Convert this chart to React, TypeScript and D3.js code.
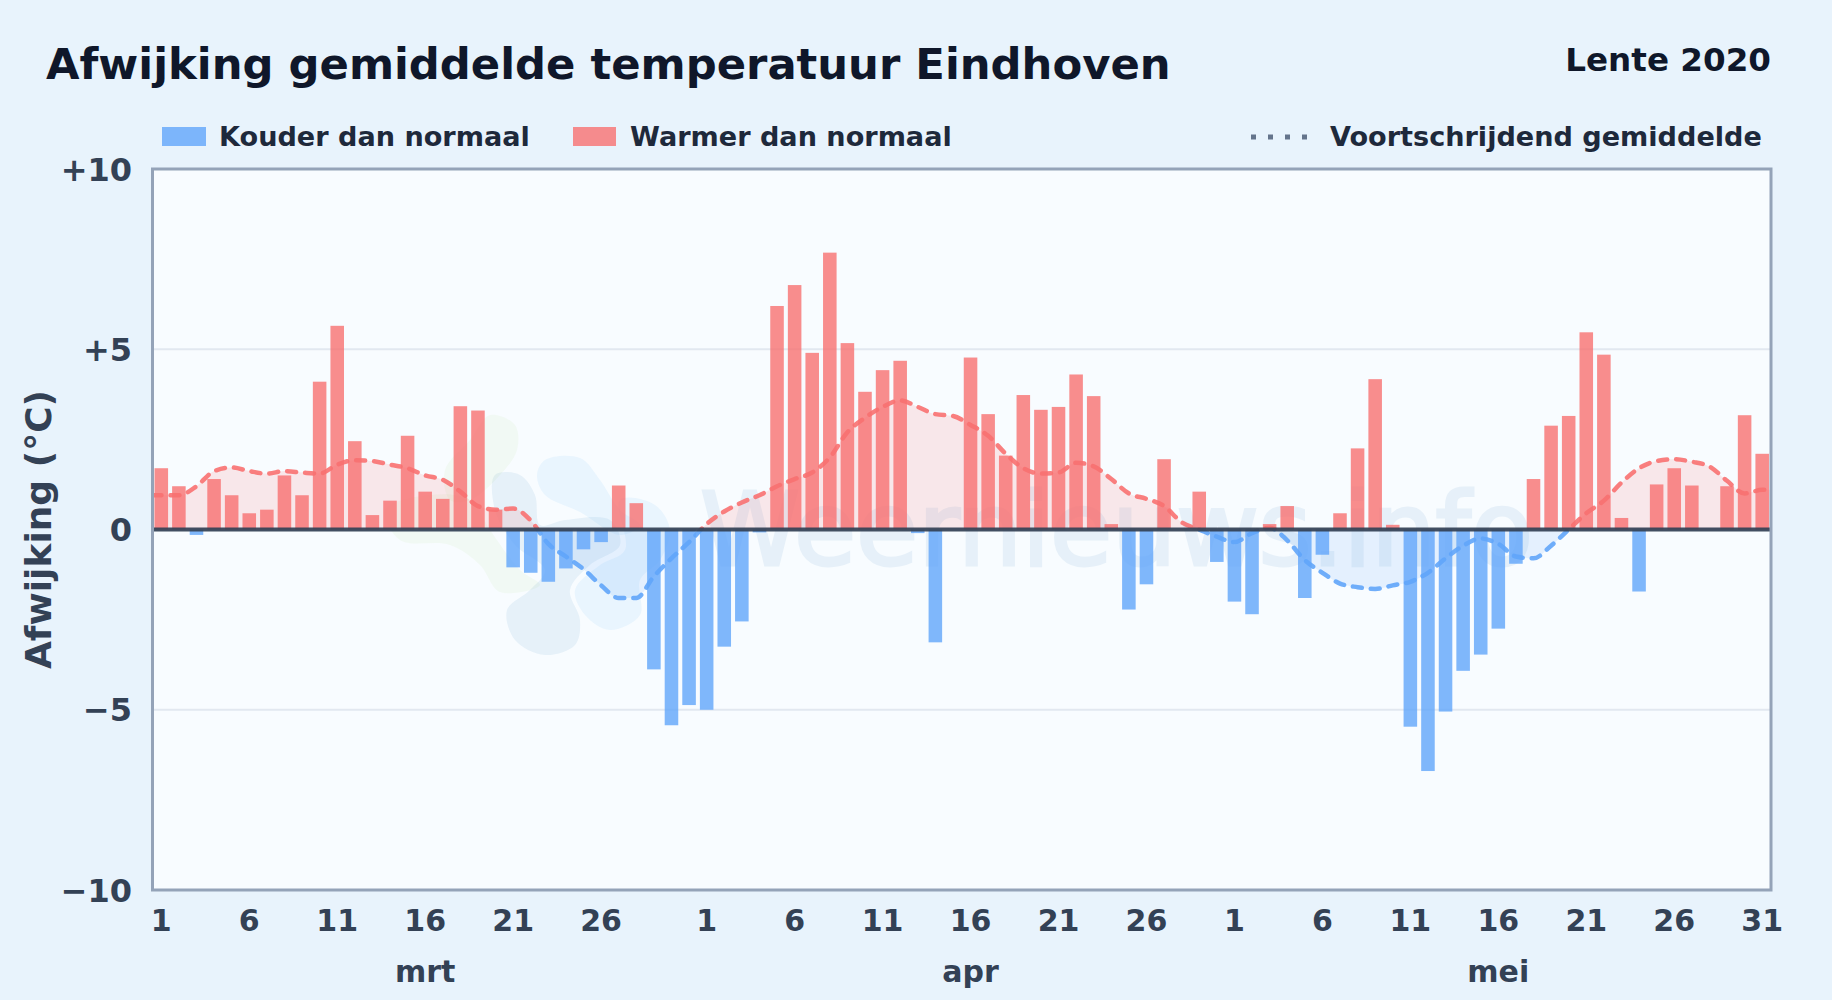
import React from 'react';
import * as d3 from 'd3';

const WIDTH = 1832;
const HEIGHT = 1000;
const margin = { top: 169, right: 61, bottom: 110, left: 152.5 };

const months = ['mrt', 'apr', 'mei'];
const monthLengths = [31, 30, 31];

const tickDaysMrt = [1, 6, 11, 16, 21, 26];
const tickDaysApr = [1, 6, 11, 16, 21, 26];
const tickDaysMei = [1, 6, 11, 16, 21, 26, 31];

const anomalyMrt = [
  1.7, 1.2, -0.15, 1.4, 0.95, 0.45, 0.55, 1.5, 0.95, 4.1, 5.65, 2.45, 0.4, 0.8, 2.6, 1.05,
  0.85, 3.42, 3.3, 0.55, -1.05, -1.2, -1.45, -1.08, -0.55, -0.35, 1.22, 0.73, -3.88, -5.43, -4.87,
];
const anomalyApr = [
  -5.0, -3.25, -2.55, -0.08, 6.2, 6.78, 4.9, 7.68, 5.17, 3.82, 4.42, 4.68, -0.1, -3.13, 0,
  4.77, 3.2, 2.05, 3.73, 3.32, 3.4, 4.3, 3.7, 0.15, -2.22, -1.52, 1.95, 0, 1.05, -0.9,
];
const anomalyMei = [
  -2.0, -2.35, 0.15, 0.65, -1.9, -0.7, 0.45, 2.25, 4.17, 0.13, -5.47, -6.7, -5.05, -3.92, -3.47,
  -2.75, -0.95, 1.4, 2.88, 3.15, 5.47, 4.85, 0.32, -1.72, 1.25, 1.7, 1.22, 0, 1.2, 3.17, 2.1,
];

const smoothMrt = [
  0.95, 0.95, 1.2, 1.62, 1.72, 1.62, 1.55, 1.62, 1.58, 1.55, 1.8, 1.92, 1.9, 1.8, 1.7, 1.5,
  1.38, 1.05, 0.65, 0.55, 0.58, 0.25, -0.4, -0.75, -1.1, -1.55, -1.9, -1.9, -1.3, -0.8, -0.35,
];
const smoothApr = [
  0.15, 0.5, 0.75, 0.95, 1.2, 1.4, 1.58, 2.0, 2.7, 3.1, 3.4, 3.58, 3.4, 3.2, 3.15,
  2.9, 2.6, 2.1, 1.7, 1.55, 1.58, 1.85, 1.75, 1.4, 1.0, 0.85, 0.65, 0.2, 0.0, -0.2,
];
const smoothMei = [
  -0.35, -0.1, 0.05, -0.3, -0.85, -1.2, -1.5, -1.6, -1.65, -1.55, -1.45, -1.2, -0.8, -0.45, -0.25,
  -0.4, -0.75, -0.8, -0.45, 0.0, 0.45, 0.8, 1.3, 1.7, 1.9, 1.95, 1.88, 1.75, 1.35, 1.0, 1.1,
];

const yTicks = [10, 5, 0, -5, -10];
const gridValues = [5, -5];

const anomaly = [...anomalyMrt, ...anomalyApr, ...anomalyMei];
const smooth = [...smoothMrt, ...smoothApr, ...smoothMei];

const font = '"DejaVu Sans", sans-serif';
const RED = '#f87171';
const BLUE = '#60a5fa';

const innerW = WIDTH - margin.left - margin.right;
const innerH = HEIGHT - margin.top - margin.bottom;

const x = d3
  .scaleBand<number>()
  .domain(d3.range(anomaly.length))
  .range([margin.left, margin.left + innerW])
  .paddingInner(0.23)
  .paddingOuter(0.115);
const y = d3.scaleLinear().domain([-10, 10]).range([margin.top + innerH, margin.top]);
const xc = (i: number) => x(0)! + x.bandwidth() / 2 + i * x.step();

// the average runs on to the plot edges, so repeat the end values half a step out
const smoothPts: [number, number][] = [
  [-0.5, smooth[0]],
  ...smooth.map((v, i) => [i, v] as [number, number]),
  [smooth.length - 0.5, smooth[smooth.length - 1]],
];

const linePath = d3.line<[number, number]>().x(d => xc(d[0])).y(d => y(d[1])).curve(d3.curveMonotoneX)(smoothPts)!;
const areaPath = d3.area<[number, number]>().x(d => xc(d[0])).y0(y(0)).y1(d => y(d[1])).curve(d3.curveMonotoneX)(smoothPts)!;

const monthStart = (m: number) => d3.sum(monthLengths.slice(0, m));
const xTicks = [tickDaysMrt, tickDaysApr, tickDaysMei].flatMap((days, m) =>
  days.map(d => ({ label: String(d), i: monthStart(m) + d - 1 })),
);

const yLabel = (v: number) => (v > 0 ? `+${v}` : v < 0 ? `\u2212${-v}` : '0');

// watermark logo blobs
const blobLine = d3.line().curve(d3.curveCatmullRomClosed);
const blobs: { pts: [number, number][]; fill: string }[] = [
  { pts: [[490, 415], [515, 425], [517, 450], [500, 475], [470, 500], [450, 500], [445, 470], [470, 440]], fill: '#a3d977' },
  { pts: [[385, 510], [430, 495], [470, 500], [490, 530], [520, 570], [540, 585], [500, 592], [480, 565], [450, 545], [400, 540]], fill: '#a3d977' },
  { pts: [[495, 475], [520, 475], [535, 495], [540, 525], [565, 520], [610, 520], [620, 545], [590, 565], [570, 590], [580, 620], [575, 645], [545, 655], [515, 640], [507, 610], [530, 590], [545, 570], [515, 545], [495, 510]], fill: '#1e6fb8' },
  { pts: [[545, 460], [580, 458], [600, 480], [620, 510], [640, 525], [620, 535], [580, 512], [545, 495], [537, 475]], fill: '#3fa5f5' },
  { pts: [[620, 500], [655, 505], [670, 530], [660, 560], [640, 580], [640, 615], [610, 630], [585, 615], [575, 590], [600, 565], [625, 550]], fill: '#3fa5f5' },
];

export default function App() {
  return (
    <svg
      width={WIDTH}
      height={HEIGHT}
      viewBox={`0 0 ${WIDTH} ${HEIGHT}`}
      style={{ position: 'absolute', left: 0, top: 0, fontFamily: font, fontWeight: 700 }}
    >
      <defs>
        <clipPath id="above">
          <rect x={margin.left} y={margin.top} width={innerW} height={y(0) - margin.top} />
        </clipPath>
        <clipPath id="below">
          <rect x={margin.left} y={y(0)} width={innerW} height={margin.top + innerH - y(0)} />
        </clipPath>
        <clipPath id="plot">
          <rect x={margin.left} y={margin.top} width={innerW} height={innerH} />
        </clipPath>
      </defs>

      <rect width={WIDTH} height={HEIGHT} fill="#e8f3fc" />
      <rect x={margin.left} y={margin.top} width={innerW} height={innerH} fill="#f8fcff" />

      <g clipPath="url(#plot)">
        {blobs.map((b, i) => (
          <path key={i} d={blobLine(b.pts)!} fill={b.fill} opacity={0.08} />
        ))}
        <text
          x={700}
          y={565}
          fontSize={101}
          fontWeight={400}
          fill="#1e6fb8"
          stroke="#1e6fb8"
          strokeWidth={3}
          opacity={0.08}
        >
          Weernieuws.info
        </text>
      </g>

      {gridValues.map(v => (
        <line key={v} x1={margin.left} x2={margin.left + innerW} y1={y(v)} y2={y(v)} stroke="#e2e8f0" strokeWidth={2} />
      ))}

      <path d={areaPath} fill={RED} opacity={0.15} clipPath="url(#above)" />
      <path d={areaPath} fill={BLUE} opacity={0.13} clipPath="url(#below)" />
      <path d={linePath} fill="none" stroke={RED} strokeWidth={4.5} strokeDasharray="9 9" strokeLinecap="round" opacity={0.9} clipPath="url(#above)" />
      <path d={linePath} fill="none" stroke={BLUE} strokeWidth={4.5} strokeDasharray="9 9" strokeLinecap="round" opacity={0.9} clipPath="url(#below)" />

      {anomaly.map((v, i) => (
        <rect
          key={i}
          x={x(i)}
          width={x.bandwidth()}
          y={v >= 0 ? y(v) : y(0)}
          height={Math.abs(y(v) - y(0))}
          fill={v >= 0 ? RED : BLUE}
          opacity={0.8}
        />
      ))}

      <line x1={margin.left} x2={margin.left + innerW} y1={y(0)} y2={y(0)} stroke="#334155" strokeWidth={4} opacity={0.92} />
      <rect x={margin.left} y={margin.top} width={innerW} height={innerH} fill="none" stroke="#94a3b8" strokeWidth={3} />

      <text x={46} y={79} fontSize={43.3} fill="#0f172a">Afwijking gemiddelde temperatuur Eindhoven</text>
      <text x={1771} y={70.5} fontSize={32.6} fill="#0f172a" textAnchor="end">Lente 2020</text>

      <rect x={162} y={127} width={44} height={19} fill={BLUE} opacity={0.8} />
      <text x={219} y={145.5} fontSize={27.1} fill="#1e293b">Kouder dan normaal</text>
      <rect x={573} y={127} width={43} height={19} fill={RED} opacity={0.8} />
      <text x={630} y={145.5} fontSize={27.1} fill="#1e293b">Warmer dan normaal</text>
      <line x1={1251} x2={1310} y1={137} y2={137} stroke="#64748b" strokeWidth={5} strokeDasharray="5 12" />
      <text x={1330} y={145.5} fontSize={27.1} fill="#1e293b">Voortschrijdend gemiddelde</text>

      {yTicks.map(v => (
        <text key={v} x={132} y={y(v)} dy="0.36em" fontSize={32} fill="#334155" textAnchor="end">
          {yLabel(v)}
        </text>
      ))}
      {xTicks.map(t => (
        <text key={t.i} x={xc(t.i)} y={931} fontSize={30} fill="#334155" textAnchor="middle">
          {t.label}
        </text>
      ))}
      {months.map((m, k) => (
        <text key={m} x={xc(monthStart(k) + 15)} y={982} fontSize={30} fill="#334155" textAnchor="middle">
          {m}
        </text>
      ))}
      <text transform={`translate(51,${y(0)}) rotate(-90)`} fontSize={36} fill="#334155" textAnchor="middle">
        Afwijking (°C)
      </text>
    </svg>
  );
}
